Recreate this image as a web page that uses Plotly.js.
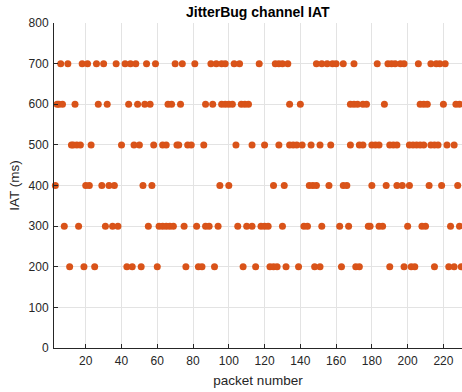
<!DOCTYPE html>
<html>
<head>
<meta charset="utf-8">
<script src="https://cdn.plot.ly/plotly-3.0.1.min.js"></script>
<style>html,body{margin:0;padding:0;background:#fff;}#chart{width:462px;height:392px;}</style>
</head>
<body>
<div id="chart"></div>
<script>
// IAT levels (ms) and the packet numbers observed at each level
var levels = [200, 300, 400, 500, 600, 700];
var pkt200 = [11, 19, 25, 43, 46, 51, 60, 76, 83, 85, 92, 108, 115, 123, 125, 127, 132, 139, 148, 151, 163, 171, 173, 190, 198, 202, 204, 215, 223, 226, 230];
var pkt300 = [8, 16, 31, 35, 38, 55, 61, 63, 65, 67, 69, 75, 82, 87, 89, 94, 105, 110, 113, 118, 120, 122, 130, 142, 144, 152, 162, 167, 178, 179, 184, 186, 200, 208, 210, 224, 229];
var pkt400 = [3, 20, 22, 29, 33, 36, 52, 57, 95, 100, 125, 131, 145, 147, 149, 156, 164, 166, 180, 188, 194, 197, 201, 212, 219, 228];
var pkt500 = [12, 13, 15, 17, 23, 40, 47, 50, 58, 63, 65, 71, 72, 77, 79, 86, 104, 113, 120, 128, 134, 136, 138, 141, 146, 151, 157, 168, 173, 175, 180, 182, 184, 190, 192, 194, 201, 203, 205, 207, 209, 213, 215, 217, 222, 226];
var pkt600 = [4, 5, 7, 14, 27, 32, 44, 49, 53, 56, 66, 68, 73, 87, 91, 96, 98, 100, 102, 107, 109, 111, 134, 140, 168, 170, 172, 175, 177, 187, 207, 209, 211, 220, 227, 229];
var pkt700 = [2, 6, 10, 18, 21, 26, 30, 37, 42, 45, 48, 54, 59, 70, 74, 81, 90, 93, 96, 98, 103, 106, 117, 126, 128, 130, 133, 149, 152, 155, 158, 160, 164, 170, 183, 189, 191, 193, 196, 198, 206, 213, 216, 218, 221];
var xTicks = [20, 40, 60, 80, 100, 120, 140, 160, 180, 200, 220];

var groups = [pkt200, pkt300, pkt400, pkt500, pkt600, pkt700];
var xs = [], ys = [];
groups.forEach(function (g, i) {
  g.forEach(function (p) { xs.push(p); ys.push(levels[i]); });
});

var txt = '#262626';
var fam = 'Liberation Sans, Arial, Helvetica, sans-serif';

var trace = {
  type: 'scatter', mode: 'markers', x: xs, y: ys, cliponaxis: false,
  marker: { size: 7, color: '#D95319', line: { width: 0 } },
  hoverinfo: 'x+y'
};

var layout = {
  width: 462, height: 392,
  margin: { l: 54, r: 0, t: 23, b: 44, pad: 0 },
  paper_bgcolor: '#ffffff', plot_bgcolor: '#ffffff',
  showlegend: false,
  font: { family: fam, size: 12, color: txt },
  title: { text: '<b>JitterBug channel IAT</b>', font: { family: fam, size: 14, color: '#000' },
           x: 0.558, xanchor: 'center', y: 0.969, yanchor: 'middle', xref: 'container', yref: 'container' },
  xaxis: {
    range: [2.25, 230.4], tickvals: xTicks, ticks: 'inside', ticklen: 4, tickcolor: txt,
    showline: true, linecolor: txt, linewidth: 1, mirror: false,
    showgrid: true, gridcolor: '#e3e3e3', gridwidth: 1, zeroline: false,
    tickfont: { size: 12, color: txt }, ticklabelstandoff: 2,
    title: { text: 'packet number', font: { size: 13.5, color: txt }, standoff: 8 }
  },
  yaxis: {
    range: [0, 800], dtick: 100, tick0: 0, ticks: 'inside', ticklen: 4, tickcolor: txt,
    showline: true, linecolor: txt, linewidth: 1, mirror: false,
    showgrid: true, gridcolor: '#e3e3e3', gridwidth: 1, zeroline: false,
    tickfont: { size: 12, color: txt }, ticklabelstandoff: 2,
    title: { text: 'IAT (ms)', font: { size: 13.5, color: txt }, standoff: 5 }
  }
};

Plotly.newPlot('chart', [trace], layout, { displayModeBar: false, staticPlot: true });
</script>
</body>
</html>
